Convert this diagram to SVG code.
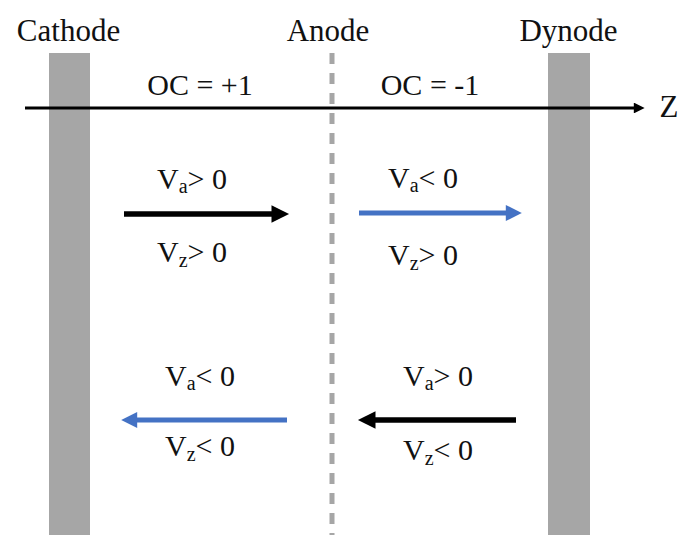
<svg xmlns="http://www.w3.org/2000/svg" width="678" height="535" viewBox="0 0 678 535">
<style>
text{font-family:"Liberation Serif","Times New Roman",serif;font-size:30px;fill:#111;text-anchor:middle}
.sub{font-size:20px}
.big{font-size:31px}
.bar{fill:#a6a6a6}
</style>
<defs>
<marker id="hb" viewBox="0 0 10 10" refX="2" refY="5" markerWidth="3.6" markerHeight="3.2" orient="auto" markerUnits="strokeWidth"><path d="M0,0L10,5L0,10z" fill="#000"/></marker>
<marker id="hu" viewBox="0 0 10 10" refX="2" refY="5" markerWidth="3.6" markerHeight="3.2" orient="auto" markerUnits="strokeWidth"><path d="M0,0L10,5L0,10z" fill="#4472c4"/></marker>
<marker id="hz" viewBox="0 0 10 10" refX="2" refY="5" markerWidth="4.5" markerHeight="3.6" orient="auto" markerUnits="strokeWidth"><path d="M0,0L10,5L0,10z" fill="#000"/></marker>
</defs>
<rect width="678" height="535" fill="#fff"/>
<g id="cathode"><rect class="bar" x="49" y="53" width="41" height="482"/><text class="big" x="68.5" y="41">Cathode</text></g>
<g id="dynode"><rect class="bar" x="548" y="53" width="42" height="482"/><text class="big" x="568.5" y="41">Dynode</text></g>
<g id="anode"><line x1="332" y1="53" x2="332" y2="535" stroke="#a6a6a6" stroke-width="5" stroke-dasharray="11 9"/><text class="big" x="328" y="41">Anode</text></g>
<g id="axis"><line x1="25" y1="108" x2="636" y2="108" stroke="#000" stroke-width="3" marker-end="url(#hz)"/><text class="big" x="669" y="117">Z</text></g>
<text x="200" y="95">OC = +1</text>
<text x="430" y="95">OC = -1</text>
<g id="connectors">
<line x1="124" y1="214" x2="275" y2="214" stroke="#000" stroke-width="5.5" marker-end="url(#hb)"/>
<line x1="359" y1="213" x2="509" y2="213" stroke="#4472c4" stroke-width="5" marker-end="url(#hu)"/>
<line x1="287" y1="420" x2="134" y2="420" stroke="#4472c4" stroke-width="5" marker-end="url(#hu)"/>
<line x1="516" y1="420" x2="372" y2="420" stroke="#000" stroke-width="5.5" marker-end="url(#hb)"/>
</g>
<text x="192" y="189">V<tspan class="sub" dy="4">a</tspan><tspan dy="-4">&gt; 0</tspan></text>
<text x="192" y="262">V<tspan class="sub" dy="5">z</tspan><tspan dy="-5">&gt; 0</tspan></text>
<text x="423" y="188">V<tspan class="sub" dy="4">a</tspan><tspan dy="-4">&lt; 0</tspan></text>
<text x="423" y="265">V<tspan class="sub" dy="5">z</tspan><tspan dy="-5">&gt; 0</tspan></text>
<text x="200" y="386">V<tspan class="sub" dy="4">a</tspan><tspan dy="-4">&lt; 0</tspan></text>
<text x="200" y="456">V<tspan class="sub" dy="5">z</tspan><tspan dy="-5">&lt; 0</tspan></text>
<text x="438" y="386">V<tspan class="sub" dy="4">a</tspan><tspan dy="-4">&gt; 0</tspan></text>
<text x="438" y="460">V<tspan class="sub" dy="5">z</tspan><tspan dy="-5">&lt; 0</tspan></text>
</svg>
